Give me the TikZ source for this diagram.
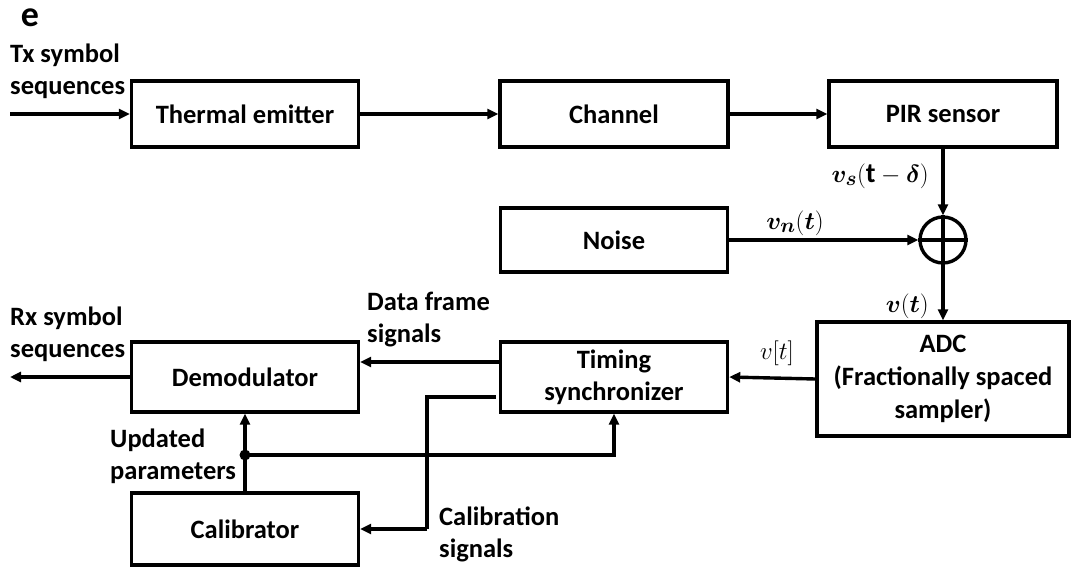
\documentclass[tikz,border=0pt]{standalone}
\usepackage{amsmath,bm}
\usepackage{fontspec}
\setmainfont{Carlito}
\usetikzlibrary{arrows.meta}
\begin{document}
\begin{tikzpicture}[x=1pt,y=-1pt,
  every node/.style={font=\bfseries\fontsize{26.5}{32}\selectfont},
  blk/.style={draw,line width=3.4pt,inner sep=0pt,align=center,minimum width=227pt,minimum height=66pt},
  conn/.style={line width=3.4pt},
  arr/.style={conn,-{Triangle[length=11pt,width=10pt]}},
  lbl/.style={align=left,inner sep=0pt},
  mlbl/.style={inner sep=0pt,font=\fontsize{28}{32}\selectfont}]
\useasboundingbox (0,0) rectangle (1080,570);
% blocks
\node[blk] (te) at (245,114) {Thermal emitter};
\node[blk,minimum width=228pt] (ch) at (614,114) {Channel};
\node[blk,minimum width=228pt] (pir) at (943,114) {PIR sensor};
\node[blk,minimum height=64pt] (noise) at (614,240) {Noise};
\node[draw,circle,line width=3.4pt,minimum size=46pt,inner sep=0pt] (sum) at (943,240) {};
\draw[conn] (sum.north) -- (sum.south) (sum.west) -- (sum.east);
\node[blk,minimum width=252pt,minimum height=114pt,font=\bfseries\fontsize{26.5}{33}\selectfont] (adc) at (943,379) {ADC\\(Fractionally spaced\\sampler)};
\node[blk,minimum height=70pt] (ts) at (614,377) {Timing\\synchronizer};
\node[blk,minimum height=70pt] (dem) at (245,377) {Demodulator};
\node[blk,minimum height=72pt] (cal) at (245,529) {Calibrator};
% free ends
\coordinate (tx) at (10,114);
\coordinate (rx) at (10,377);
\coordinate (dot) at (245,455);
% connectors
\draw[arr] (tx) -- (te.west);
\draw[arr] (te.east) -- (ch.west);
\draw[arr] (ch.east) -- (pir.west);
\draw[arr] (pir.south) -- (sum.north);
\draw[arr] (noise.east) -- (sum.west);
\draw[arr] (sum.south) -- (adc.north);
\draw[arr] (adc.west) -- (ts.east);
\draw[arr] ([yshift=15pt]ts.west) -- ([yshift=15pt]dem.east);
\draw[arr] (dem.west) -- (rx);
\draw[arr] (cal.north) -- (dem.south);
\draw[arr] (dot) -| (ts.south);
\fill (dot) circle (5.5pt);
\draw[conn] ([xshift=-3pt,yshift=-20pt]ts.west) -- (427,397) -- (427,529);
\draw[arr] (427,529) -- (cal.east);
% labels
\node[inner sep=0pt,font=\bfseries\fontsize{36}{40}\selectfont] (lbe) at (30,18) {e};
\node[lbl,anchor=north west] (ltx) at (10,44) {Tx symbol\\sequences};
\node[lbl,anchor=north west] (lrx) at (10,307) {Rx symbol\\sequences};
\node[lbl,anchor=north west] (ldf) at (367,292) {Data frame\\signals};
\node[lbl,anchor=north west] (lup) at (110,429) {Updated\\parameters};
\node[lbl,anchor=north west] (lcs) at (439,507) {Calibration\\signals};
\node[mlbl,anchor=east] (lvs) at (929,176) {$\boldsymbol{v_s}(\mathbf{t}-\boldsymbol{\delta})$};
\node[mlbl] (lvn) at (795,223) {$\boldsymbol{v_n}(\boldsymbol{t})$};
\node[mlbl,anchor=east] (lv) at (929,306) {$\boldsymbol{v}(\boldsymbol{t})$};
\node[mlbl] (lvt) at (777,353) {$v[t]$};
\end{tikzpicture}
\end{document}
